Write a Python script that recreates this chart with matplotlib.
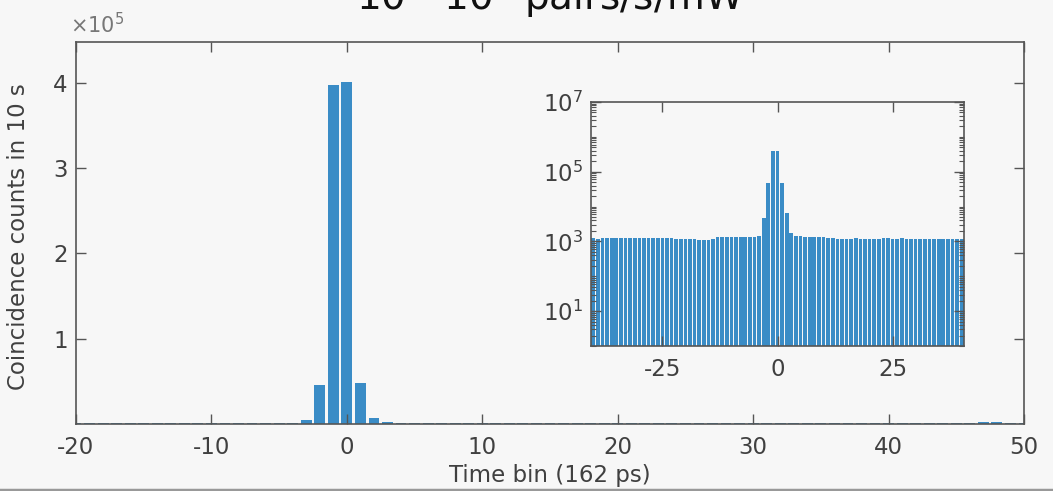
import numpy as np
import matplotlib
matplotlib.use('Agg')
import matplotlib.pyplot as plt
from matplotlib.lines import Line2D
from matplotlib.ticker import LogLocator, NullFormatter, FixedLocator

# time bins (162 ps each) and coincidence counts in 10 s
time_bins = list(range(-40, 51))
counts = [
    # -40 .. -31
    1230, 1210, 1220, 1240, 1250, 1250, 1260, 1250, 1270, 1260,
    # -30 .. -23
    1280, 1290, 1280, 1270, 1270, 1260, 1270, 1250,
    # -22 .. -18
    1200, 1210, 1200, 1190, 1180,
    # -17 .. -14
    1130, 1120, 1130, 1150,
    # -13 .. -5
    1300, 1380, 1370, 1360, 1350, 1340, 1330, 1350, 1360,
    # -4 .. 3 (coincidence peak)
    1450, 4600, 46000, 398000, 401000, 47500, 6500, 1800,
    # 4 .. 10
    1400, 1390, 1380, 1370, 1380, 1360, 1350,
    # 11 .. 40
    1240, 1220, 1210, 1200, 1200, 1210, 1220, 1200, 1190, 1200,
    1210, 1200, 1230, 1220, 1200, 1210, 1220, 1210, 1200, 1200,
    1210, 1200, 1200, 1190, 1200, 1210, 1200, 1200, 1190, 1200,
    # 41 .. 50
    1200, 1210, 1200, 1220, 1250, 1350, 2000, 2100, 1400, 1250,
]

main_xticks = [-20, -10, 0, 10, 20, 30, 40, 50]
main_yticks = [1e5, 2e5, 3e5, 4e5]
main_yticklabels = ['1', '2', '3', '4']
inset_xticks = [-25, 0, 25]
inset_yticks = [1e1, 1e3, 1e5, 1e7]

title_text = r'10$^{6}$–10$^{7}$ pairs/s/mW'
xlabel_text = 'Time bin (162 ps)'
ylabel_text = 'Coincidence counts in 10 s'

bar_color = '#3a8cc6'
bg = '#f7f7f7'
txt = '#404040'
spine = '#555555'

plt.rcParams['font.family'] = ['DejaVu Sans']
plt.rcParams['axes.unicode_minus'] = False

W, H = 1053, 491
fig = plt.figure(figsize=(W / 100, H / 100), dpi=100, facecolor=bg)


def px_axes(l, t, r, b):
    return fig.add_axes([l / W, 1 - b / H, (r - l) / W, (b - t) / H])


def style(ax):
    ax.set_facecolor(bg)
    for s in ax.spines.values():
        s.set_color(spine)
        s.set_linewidth(1.2)
    ax.tick_params(which='major', direction='in', length=7, width=1,
                   color=spine, labelcolor=txt, labelsize=16.5,
                   top=True, right=True)
    ax.tick_params(which='minor', direction='in', length=3.5, width=0.8,
                   color=spine, top=True, right=True)


# main axes
ax = px_axes(76, 42, 1024, 424)
style(ax)
ax.bar(time_bins, counts, width=0.8, color=bar_color, edgecolor='none')
ax.set_xlim(-20, 50)
ax.set_ylim(0, 4.48e5)
ax.set_xticks(main_xticks)
ax.set_yticks(main_yticks)
ax.set_yticklabels(main_yticklabels)
ax.tick_params(axis='x', pad=9)
ax.tick_params(axis='y', pad=6)
ax.set_xlabel(xlabel_text, fontsize=16.5, color=txt)
ax.set_ylabel(ylabel_text, fontsize=16.5, color=txt)
ax.xaxis.set_label_coords(0.5, -0.105)
ax.yaxis.set_label_coords(-0.049, 0.49)
fig.text(70 / W, 1 - 33 / H, r'$\times10^{5}$', fontsize=15, color='#777777',
         va='baseline', ha='left')

# inset (log scale)
ax2 = px_axes(591, 102, 964, 346)
style(ax2)
ax2.bar(time_bins, counts, width=0.8, color=bar_color, edgecolor='none')
ax2.set_yscale('log')
ax2.set_xlim(-40.5, 40.5)
ax2.set_ylim(1, 1e7)
ax2.set_xticks(inset_xticks)
ax2.yaxis.set_major_locator(FixedLocator(inset_yticks))
ax2.yaxis.set_minor_locator(LogLocator(base=10, subs=np.arange(1, 10), numticks=20))
ax2.yaxis.set_minor_formatter(NullFormatter())
ax2.set_yticklabels([r'$10^{1}$', r'$10^{3}$', r'$10^{5}$', r'$10^{7}$'])
ax2.tick_params(axis='x', pad=9)
ax2.tick_params(axis='y', pad=6)

# title, mostly cut off at the top of the picture
fig.text(550 / W, 1 - 10 / H, title_text, fontsize=28, color='#111111',
         ha='center', va='baseline')

# bottom frame line
fig.add_artist(Line2D([0, 1], [1.5 / H, 1.5 / H], transform=fig.transFigure,
                      color='#999999', lw=2.5))

fig.savefig('out.png', dpi=100, facecolor=bg)
